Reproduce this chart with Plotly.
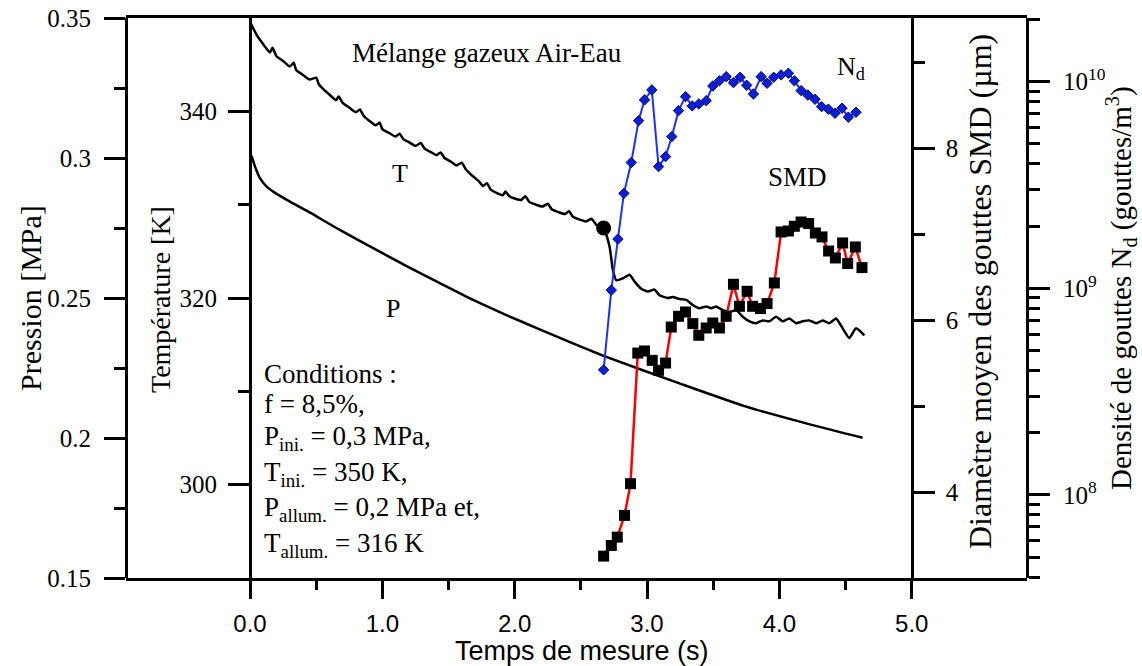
import plotly.graph_objects as go

# ---------------- data ----------------
P_t = [0.0, 0.013, 0.038, 0.075, 0.126, 0.176, 0.302, 0.428, 0.679, 0.931, 1.183, 1.434,
       1.686, 1.937, 2.189, 2.440, 2.692, 3.245, 3.749, 4.251, 4.629]
P_val = [0.3012, 0.3005, 0.2969, 0.2928, 0.2898, 0.2880, 0.2844, 0.2812, 0.2743, 0.2678, 0.2614,
         0.2553, 0.2493, 0.2439, 0.2388, 0.2338, 0.2290, 0.2195, 0.2112, 0.2046, 0.2001]

T_t = [0.00, 0.05, 0.10, 0.15, 0.17, 0.20, 0.25, 0.30, 0.33, 0.35, 0.40, 0.45, 0.50, 0.52,
       0.56, 0.60, 0.65, 0.67, 0.70, 0.75, 0.80, 0.83, 0.86, 0.90, 0.95, 0.98, 1.00, 1.05,
       1.10, 1.13, 1.16, 1.20, 1.25, 1.29, 1.32, 1.37, 1.41, 1.44, 1.47, 1.52, 1.56, 1.60,
       1.63, 1.68, 1.73, 1.76, 1.79, 1.82, 1.87, 1.91, 1.93, 1.96, 2.01, 2.05, 2.08, 2.11,
       2.16, 2.21, 2.25, 2.28, 2.33, 2.38, 2.41, 2.44, 2.49, 2.54, 2.58, 2.62, 2.672,
       2.717, 2.742, 2.768, 2.817, 2.868, 2.906, 2.956, 3.006, 3.057, 3.094, 3.157, 3.195,
       3.245, 3.296, 3.346, 3.396, 3.447, 3.485, 3.522, 3.572, 3.623, 3.673, 3.723, 3.774,
       3.824, 3.874, 3.925, 3.975, 4.025, 4.075, 4.126, 4.176, 4.226, 4.277, 4.327, 4.377,
       4.428, 4.478, 4.528, 4.579, 4.642]
T_val = [349.6, 348.2, 347.2, 346.3, 346.8, 345.9, 345.4, 344.8, 345.2, 344.4, 343.9, 343.4,
         343.6, 342.9, 342.3, 341.8, 341.2, 341.6, 340.9, 340.4, 339.9, 340.2, 339.5, 339.0,
         338.5, 338.8, 338.1, 337.7, 337.3, 337.6, 337.0, 336.7, 336.3, 336.6, 336.0, 335.6,
         335.3, 335.6, 335.0, 334.6, 334.2, 334.5, 333.8, 333.1, 332.5, 332.0, 332.3, 331.6,
         331.2, 331.0, 331.4, 330.9, 330.6, 330.5, 330.9, 330.3, 330.0, 329.8, 330.1, 329.5,
         329.2, 329.0, 329.3, 328.7, 328.4, 328.2, 328.5, 327.8, 327.5,
         325.5, 323.0, 321.9, 322.1, 322.5, 321.75, 321.0, 320.7, 320.9, 320.3, 320.0, 320.1,
         319.9, 319.8, 319.25, 318.9, 319.1, 318.9, 319.1, 318.7, 318.5, 318.7, 318.0, 317.5,
         317.3, 317.6, 317.5, 318.0, 317.5, 317.8, 317.3, 317.5, 317.6, 317.3, 317.6, 317.3,
         317.8, 316.75, 315.7, 316.75, 316.0]

IGN_t = [2.672]
IGN_T = [327.5]

SMD_t = [2.672, 2.730, 2.775, 2.830, 2.875, 2.930, 2.981, 3.039, 3.087, 3.140, 3.183, 3.238,
         3.291, 3.346, 3.391, 3.447, 3.497, 3.547, 3.598, 3.653, 3.698, 3.756, 3.798, 3.857,
         3.907, 3.962, 4.013, 4.068, 4.113, 4.164, 4.221, 4.272, 4.322, 4.372, 4.423, 4.478,
         4.516, 4.574, 4.624]
SMD_val = [3.255, 3.379, 3.476, 3.729, 4.098, 5.619, 5.643, 5.534, 5.418, 5.503, 5.922, 6.047,
           6.097, 5.962, 5.826, 5.911, 5.969, 5.911, 6.047, 6.420, 6.163, 6.338, 6.163, 6.137,
           6.195, 6.435, 7.029, 7.040, 7.095, 7.145, 7.127, 7.017, 6.971, 6.807, 6.726, 6.901,
           6.661, 6.854, 6.614]

Nd_t = [2.672, 2.730, 2.780, 2.825, 2.881, 2.936, 2.981, 3.036, 3.087, 3.140, 3.187, 3.238,
        3.291, 3.341, 3.391, 3.447, 3.497, 3.547, 3.598, 3.653, 3.703, 3.753, 3.804, 3.862,
        3.907, 3.957, 4.013, 4.068, 4.113, 4.164, 4.214, 4.269, 4.319, 4.370, 4.420, 4.473,
        4.521, 4.579]
Nd_val = [4.03e8, 9.8e8, 1.73e9, 2.88e9, 4.06e9, 6.47e9, 8.16e9, 9.12e9, 3.88e9, 4.34e9,
          5.42e9, 7.24e9, 8.46e9, 7.63e9, 7.80e9, 8.09e9, 9.53e9, 1.01e10, 1.057e10, 9.89e9,
          1.05e10, 9.61e9, 8.72e9, 1.057e10, 9.82e9, 1.05e10, 1.078e10, 1.098e10, 1.01e10,
          9.05e9, 8.62e9, 8.22e9, 7.57e9, 7.36e9, 7.03e9, 7.44e9, 6.73e9, 7.11e9]

X_ticks = [0, 1, 2, 3, 4, 5]
X_ticklabels = ["0.0", "1.0", "2.0", "3.0", "4.0", "5.0"]
X_minor = [0.5, 1.5, 2.5, 3.5, 4.5]
P_ticks = [0.15, 0.2, 0.25, 0.3, 0.35]
P_ticklabels = ["0.15", "0.2", "0.25", "0.3", "0.35"]
P_minor = [0.175, 0.225, 0.275, 0.325]
T_ticks = [300, 320, 340]
T_minor = [310, 330]
S_ticks = [4, 6, 8]
S_minor = [5, 7, 9]
N_ticks = [1e8, 1e9, 1e10]
N_ticklabels = ["10<sup>8</sup>", "10<sup>9</sup>", "10<sup>10</sup>"]
N_minor = [4e7, 5e7, 6e7, 7e7, 8e7, 9e7, 2e8, 3e8, 4e8, 5e8, 6e8, 7e8, 8e8, 9e8,
           2e9, 3e9, 4e9, 5e9, 6e9, 7e9, 8e9, 9e9, 2e10]

# ---------------- layout geometry ----------------
W, H = 1142, 666
ML, MR, MT, MB = 126, 115, 18, 88
PW, PH = W - ML - MR, H - MT - MB
X_RANGE = [-0.937, 5.871]


def px(xp, yp):
    return (xp - ML) / PW, (H - MB - yp) / PH


def xpos(t):
    return (t - X_RANGE[0]) / (X_RANGE[1] - X_RANGE[0])


SERIF = "Liberation Serif"
SANS = "Liberation Sans"
BLK = "black"

fig = go.Figure()
fig.add_trace(go.Scatter(x=P_t, y=P_val, mode="lines",
                         line=dict(color=BLK, width=2.5, shape="spline", smoothing=0.6),
                         yaxis="y", showlegend=False))
fig.add_trace(go.Scatter(x=T_t, y=T_val, mode="lines",
                         line=dict(color=BLK, width=2.5, shape="spline", smoothing=0.5),
                         yaxis="y2", showlegend=False))
fig.add_trace(go.Scatter(x=IGN_t, y=IGN_T, mode="markers",
                         marker=dict(color=BLK, size=15, symbol="circle"),
                         yaxis="y2", showlegend=False))
fig.add_trace(go.Scatter(x=SMD_t, y=SMD_val, mode="lines+markers",
                         line=dict(color="#ff0000", width=2.5),
                         marker=dict(color=BLK, size=11, symbol="square"),
                         yaxis="y3", showlegend=False))
fig.add_trace(go.Scatter(x=Nd_t, y=Nd_val, mode="lines+markers",
                         line=dict(color="#1f2fff", width=2),
                         marker=dict(color="#0a1ee0", size=8, symbol="diamond",
                                     line=dict(color="#0a0a60", width=1)),
                         yaxis="y4", showlegend=False))

common = dict(showline=True, linecolor=BLK, linewidth=3, showgrid=False, zeroline=False,
              ticks="outside", tickwidth=3, tickcolor=BLK, ticklen=21, automargin=False,
              tickfont=dict(family=SERIF, size=25, color=BLK))

fig.update_layout(
    width=W, height=H,
    margin=dict(l=ML, r=MR, t=MT, b=MB, pad=0, autoexpand=False),
    paper_bgcolor="white", plot_bgcolor="white",
    xaxis=dict(range=X_RANGE, showline=True, linecolor=BLK, linewidth=3, mirror=True,
               showgrid=False, zeroline=False, ticks="outside", tickwidth=3, ticklen=18,
               tickcolor=BLK, tickmode="array", tickvals=X_ticks, ticktext=X_ticklabels,
               tickfont=dict(family=SANS, size=24, color=BLK), ticklabelstandoff=4,
               automargin=False,
               minor=dict(tickmode="array", tickvals=X_minor, ticks="outside", ticklen=9,
                          tickwidth=3, tickcolor=BLK)),
    yaxis=dict(range=[0.15, 0.35], anchor="free", position=0, side="left",
               tickmode="array", tickvals=P_ticks, ticktext=P_ticklabels,
               minor=dict(tickmode="array", tickvals=P_minor, ticks="outside", ticklen=11,
                          tickwidth=3, tickcolor=BLK),
               ticklabelstandoff=8, **common),
    yaxis2=dict(range=[290, 350], overlaying="y", anchor="free", position=xpos(0), side="left",
                tickmode="array", tickvals=T_ticks,
                minor=dict(tickmode="array", tickvals=T_minor, ticks="outside", ticklen=11,
                           tickwidth=3, tickcolor=BLK),
                ticklabelstandoff=6, **common),
    yaxis3=dict(range=[3.0, 9.52], overlaying="y", anchor="free", position=xpos(5), side="right",
                tickmode="array", tickvals=S_ticks,
                minor=dict(tickmode="array", tickvals=S_minor, ticks="outside", ticklen=11,
                           tickwidth=3, tickcolor=BLK),
                ticklabelstandoff=6, **common),
    yaxis4=dict(type="log", range=[7.598, 10.308], overlaying="y", anchor="free", position=1,
                side="right", tickmode="array", tickvals=N_ticks, ticktext=N_ticklabels,
                minor=dict(tickmode="array", tickvals=N_minor, ticks="outside", ticklen=11,
                           tickwidth=3, tickcolor=BLK),
                ticklabelstandoff=8, **common),
)

ann = []


def add_text(text, xp, yp, size=25, family=SERIF, xanchor="center", angle=0):
    x, y = px(xp, yp)
    ann.append(dict(text=text, x=x, y=y, xref="paper", yref="paper", showarrow=False,
                    xanchor=xanchor, yanchor="middle", textangle=angle,
                    font=dict(family=family, size=size, color=BLK)))


# axis titles
add_text("Pression [MPa]", 30, 298, size=30, angle=-90)
add_text("Température [K]", 160, 300, size=28, angle=-90)
add_text("Diamètre moyen des gouttes SMD (µm)", 980, 292, size=32, angle=-90)
add_text("Densité de gouttes N<sub>d</sub> (gouttes/m<sup>3</sup>)", 1121, 288, size=29, angle=-90)
add_text("Temps de mesure (s)", 582, 651, size=27, family=SANS)

# in-plot labels
add_text("Mélange gazeux Air-Eau", 350, 53, size=27, xanchor="left")
add_text("T", 400, 173, size=26)
add_text("P", 393, 309, size=26)
add_text("N<sub>d</sub>", 835, 68, size=26, xanchor="left")
add_text("SMD", 766, 177, size=27, xanchor="left")

cond = ["Conditions :", "f = 8,5%,", "P<sub>ini.</sub> = 0,3 MPa,", "T<sub>ini.</sub> = 350 K,",
        "P<sub>allum.</sub> = 0,2 MPa et,", "T<sub>allum.</sub> = 316 K"]
cond_y = [374, 404, 438, 474, 509, 545]
for s, yy in zip(cond, cond_y):
    add_text(s, 262, yy, size=27, xanchor="left")

fig.update_layout(annotations=ann)
fig.write_html("out.html", config={"displayModeBar": False},
               post_script="document.body.style.margin='0';document.body.style.overflow='hidden';")
